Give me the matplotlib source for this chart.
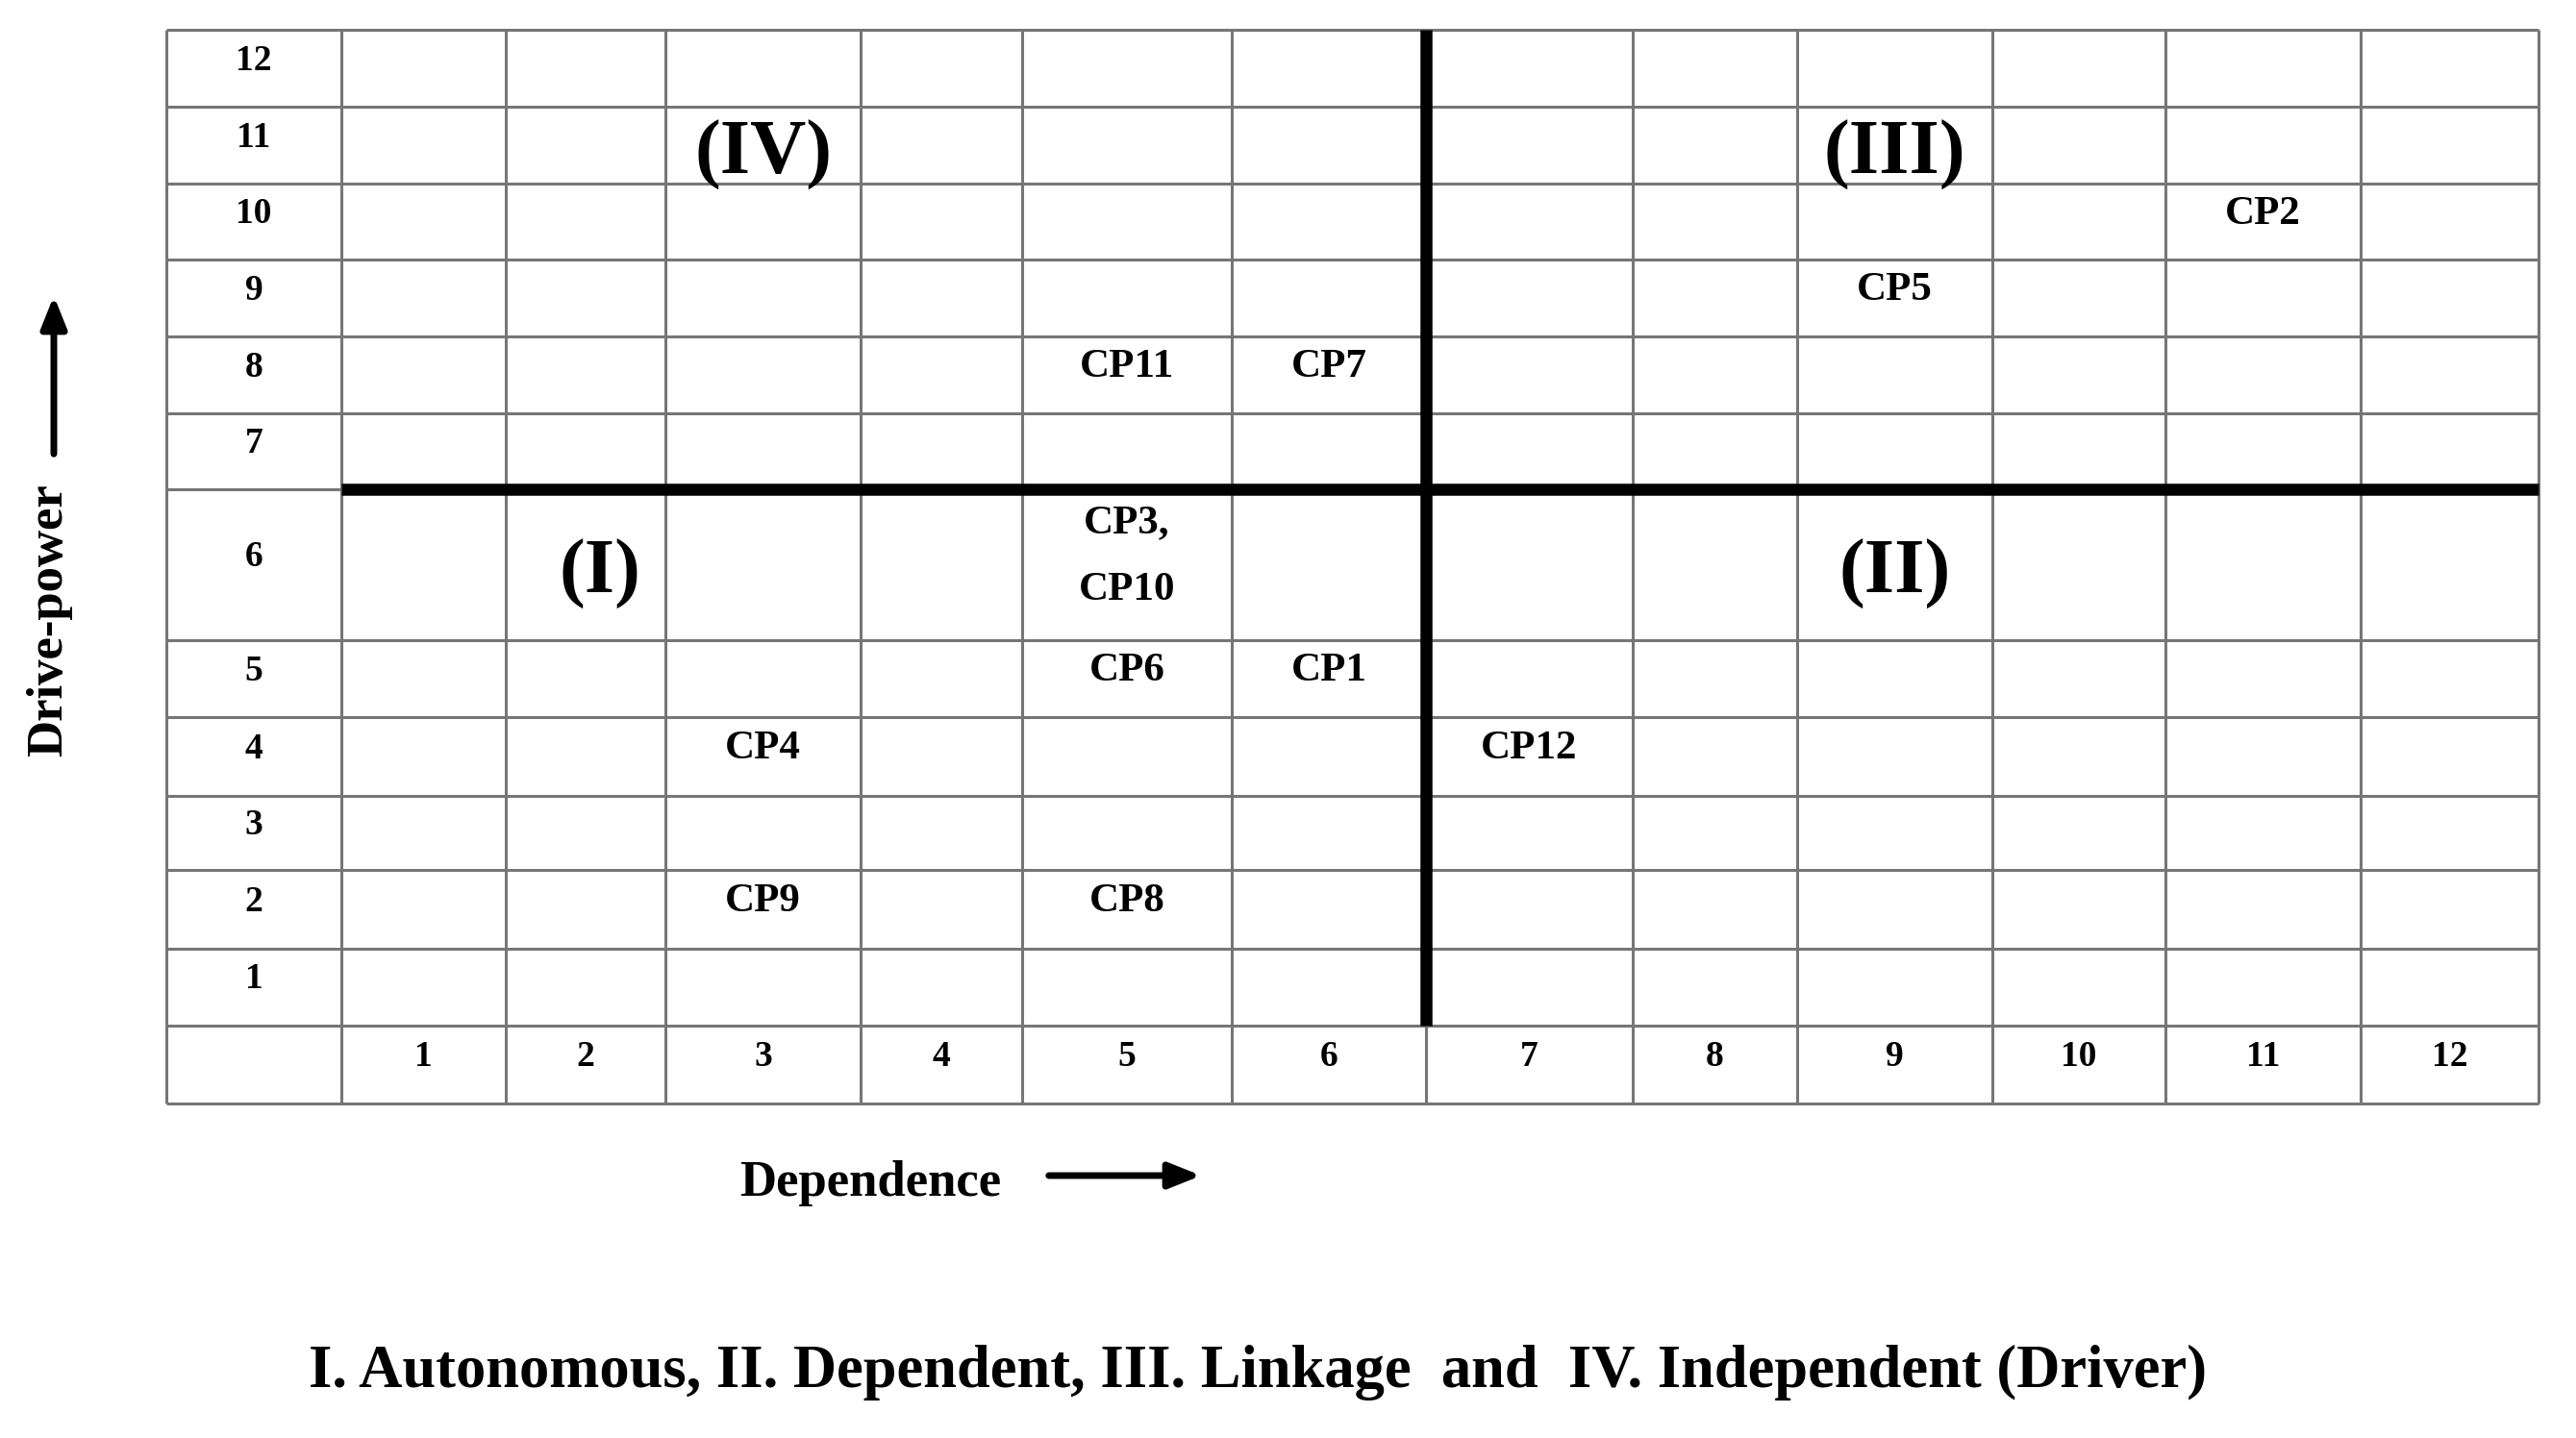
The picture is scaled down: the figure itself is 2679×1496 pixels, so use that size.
import matplotlib
matplotlib.use('Agg')
import matplotlib.pyplot as plt

# MICMAC analysis: driving power vs dependence of the critical parameters
elements = ['CP1', 'CP2', 'CP3', 'CP4', 'CP5', 'CP6', 'CP7', 'CP8', 'CP9', 'CP10', 'CP11', 'CP12']
dependence = [6, 11, 5, 3, 9, 5, 6, 5, 3, 5, 5, 7]
driving_power = [5, 10, 6, 4, 9, 5, 8, 2, 2, 6, 8, 4]
levels = list(range(1, 13))

quadrant_names = ['(I)', '(II)', '(III)', '(IV)']
caption = 'I. Autonomous, II. Dependent, III. Linkage  and  IV. Independent (Driver)'

# --- layout (output pixels) ---
W, H = 2679, 1496
# left edge of label column, then left edge of each dependence level, last = right border
col_edges = [173, 355, 526, 692, 895, 1063, 1281, 1483, 1698, 1869, 2072, 2252, 2455, 2640]
# bottom of driving power 1 ... top of driving power 12
row_edges = [1067, 987, 905, 828, 746, 666, 509, 430, 350, 270, 191, 111, 31]
label_row_bottom = 1148
split = 6                      # quadrant boundary between levels 6 and 7
quadrant_cells = [(2, 6), (9, 6), (9, 11), (3, 11)]
quadrant_dx = [15, 0, 0, 0]
text_dy = -8
quadrant_dy = 10

FONT = 'Liberation Serif'
GRID = '#767676'


def cx(level):
    return (col_edges[level] + col_edges[level + 1]) / 2


def cy(level, dy=text_dy):
    return (row_edges[level - 1] + row_edges[level]) / 2 + dy


fig = plt.figure(figsize=(W / 100, H / 100), dpi=100)
ax = fig.add_axes([0, 0, 1, 1])
ax.set_xlim(0, W)
ax.set_ylim(H, 0)
ax.axis('off')

# grid
for y in row_edges + [label_row_bottom]:
    ax.hlines(y, col_edges[0], col_edges[-1], color=GRID, lw=2.2)
for x in col_edges:
    ax.vlines(x, row_edges[-1], label_row_bottom, color=GRID, lw=2.2)

# quadrant dividers
ax.hlines(row_edges[split], col_edges[1], col_edges[-1], color='black', lw=9)
ax.vlines(col_edges[split + 1], row_edges[-1], row_edges[0], color='black', lw=9)

# axis level labels
for lv in levels:
    ax.text(cx(0), cy(lv), str(lv), ha='center', va='center',
            family=FONT, weight='bold', fontsize=27)
    ax.text(cx(lv), (row_edges[0] + label_row_bottom) / 2 + text_dy, str(lv),
            ha='center', va='center', family=FONT, weight='bold', fontsize=27)

# elements, grouped per cell
cells = {}
for name, d, p in zip(elements, dependence, driving_power):
    cells.setdefault((d, p), []).append(name)
for (d, p), names in cells.items():
    ax.text(cx(d), cy(p), ',\n'.join(names), ha='center', va='center',
            family=FONT, weight='bold', fontsize=31, linespacing=2.1)

# quadrant names
for name, (d, p), dx in zip(quadrant_names, quadrant_cells, quadrant_dx):
    ax.text(cx(d) + dx, cy(p, quadrant_dy), name, ha='center', va='center',
            family=FONT, weight='bold', fontsize=58)

# axis titles with arrows
ax.text(905, 1231, 'Dependence', ha='center', va='center',
        family=FONT, weight='bold', fontsize=38)
ax.annotate('', xy=(1252, 1223), xytext=(1088, 1223),
            arrowprops=dict(arrowstyle='-|>,head_length=1.0,head_width=0.4',
                            lw=5, color='black', mutation_scale=20))
ax.text(51, 645, 'Drive-power', ha='center', va='center', rotation=90,
        family=FONT, weight='bold', fontsize=38)
ax.annotate('', xy=(56, 305), xytext=(56, 475),
            arrowprops=dict(arrowstyle='-|>,head_length=1.0,head_width=0.4',
                            lw=5, color='black', mutation_scale=20))

ax.text(1308, 1428, caption, ha='center', va='center',
        family=FONT, weight='bold', fontsize=45)

fig.savefig('out.png', dpi=100)
